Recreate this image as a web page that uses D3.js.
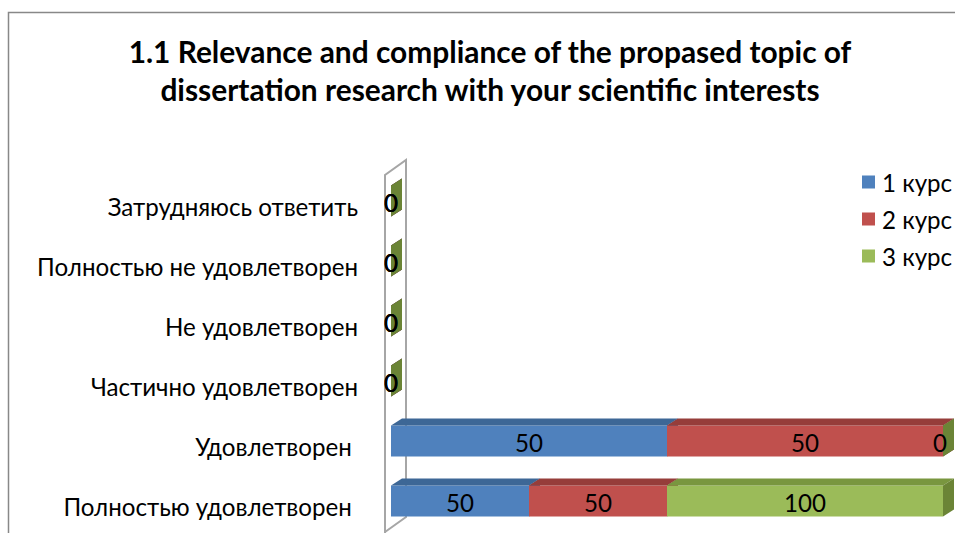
<!DOCTYPE html>
<html><head><meta charset="utf-8">
<script src="https://cdn.jsdelivr.net/npm/d3@7"></script>
<style>body{margin:0;background:#fff} svg{display:block}</style>
</head><body><svg id="c" width="955" height="533"></svg>
<script>
const categories = ["Затрудняюсь ответить","Полностью не удовлетворен","Не удовлетворен","Частично удовлетворен","Удовлетворен ","Полностью удовлетворен "];
const series = ["1 курс","2 курс","3 курс"];
const course1 = [0,0,0,0,50,50];
const course2 = [0,0,0,0,50,50];
const course3 = [0,0,0,0,0,100];
const values = [course1, course2, course3];
const titleLines = ["1.1 Relevance and compliance of the propased topic of","dissertation research with your scientific interests"];
const frontColors = ["#4F81BD","#C0504D","#9BBB59"];
const topColors = ["#3D6796","#963D3A","#79963F"];
const sideColors = ["#38608C","#8A3835","#6B8436"];

const svg = d3.select("#c");
const fontFam = "Lato, 'Open Sans', sans-serif";

// chart border
svg.append("rect").attr("x",8.5).attr("y",12.5).attr("width",1000).attr("height",1000)
  .attr("fill","#fff").attr("stroke","#888").attr("stroke-width",1.5);

// title
const tl = svg.append("g").selectAll("text").data(titleLines).join("text")
  .attr("x",490).attr("y",(d,i)=>63+i*38).attr("text-anchor","middle")
  .attr("font-family",fontFam).attr("font-weight","bold").attr("font-size",28)
  .attr("fill","#000").text(d=>d);
const tw = tl.nodes()[0].getComputedTextLength();
tl.attr("font-size", 28*723/tw);

// scales
const x = d3.scaleLinear().domain([0,100]).range([391,943]);
const y = d3.scaleBand().domain(categories).range([171,531]).paddingInner(29/60).paddingOuter(29/120);
const bh = y.bandwidth();
const dx = 11, dy = -7;         // bar depth
const wdx = 21, wdy = -15;      // wall depth

// wall
const wx = x(0) - 6, wTop = 175, wBot = 532;
svg.append("path")
  .attr("d",`M${wx},${wBot+20}L${wx},${wTop}L${wx+wdx},${wTop+wdy}L${wx+wdx},${wBot+wdy}L${wx},${wBot}`)
  .attr("fill","none").attr("stroke","#a6a6a6").attr("stroke-width",2);

// stacked 100% data
const stacks = categories.map((c,ci)=>{
  const tot = d3.sum(values, s=>s[ci]);
  let acc = 0;
  return values.map((s,si)=>{
    const p = tot ? s[ci]/tot*100 : 0;
    const seg = {c, si, v:s[ci], x0:acc, x1:acc+p};
    acc += p;
    return seg;
  });
});

const bars = svg.append("g");
stacks.forEach(segs=>{
  segs.forEach(s=>{
    const x0 = x(s.x0), x1 = x(s.x1), y0 = y(s.c), y1 = y0 + bh;
    bars.append("rect").attr("x",x0).attr("y",y0).attr("width",x1-x0).attr("height",bh)
      .attr("fill",frontColors[s.si]);
    bars.append("path").attr("d",`M${x0},${y0}L${x0+dx},${y0+dy}L${x1+dx},${y0+dy}L${x1},${y0}Z`)
      .attr("fill",topColors[s.si]);
    bars.append("path").attr("d",`M${x1},${y0}L${x1+dx},${y0+dy}L${x1+dx},${y1+dy}L${x1},${y1}Z`)
      .attr("fill",sideColors[s.si]);
  });
});

// data labels
const lab = svg.append("g").attr("font-family",fontFam).attr("font-size",20).attr("fill","#000");
stacks.flat().forEach(s=>{
  lab.append("text").attr("x",(x(s.x0)+x(s.x1))/2 - (s.x1===100&&s.v===0?3:0))
    .attr("y",y(s.c)+bh/2+1).attr("text-anchor","middle").attr("dominant-baseline","central")
    .text(s.v);
});

// category labels
const cl = svg.append("g").selectAll("text").data(categories).join("text")
  .attr("x",358).attr("y",d=>y(d)+bh/2+5).attr("text-anchor","end").attr("dominant-baseline","central")
  .attr("font-family",fontFam).attr("font-size",20).attr("fill","#000")
  .attr("xml:space","preserve").style("white-space","pre").text(d=>d);
const cw = cl.nodes()[1].getComputedTextLength();
const cfs = 20*321/cw;
cl.attr("font-size",cfs);
lab.attr("font-size",cfs);

// legend
const lg = svg.append("g").selectAll("g").data(series).join("g")
  .attr("transform",(d,i)=>`translate(862,${182+i*37})`);
lg.append("rect").attr("x",0).attr("y",-6.5).attr("width",13).attr("height",13).attr("fill",(d,i)=>frontColors[i]);
lg.append("text").attr("x",20).attr("y",0).attr("dominant-baseline","central")
  .attr("font-family",fontFam).attr("font-size",cfs).attr("fill","#000").text(d=>d);
</script></body></html>
